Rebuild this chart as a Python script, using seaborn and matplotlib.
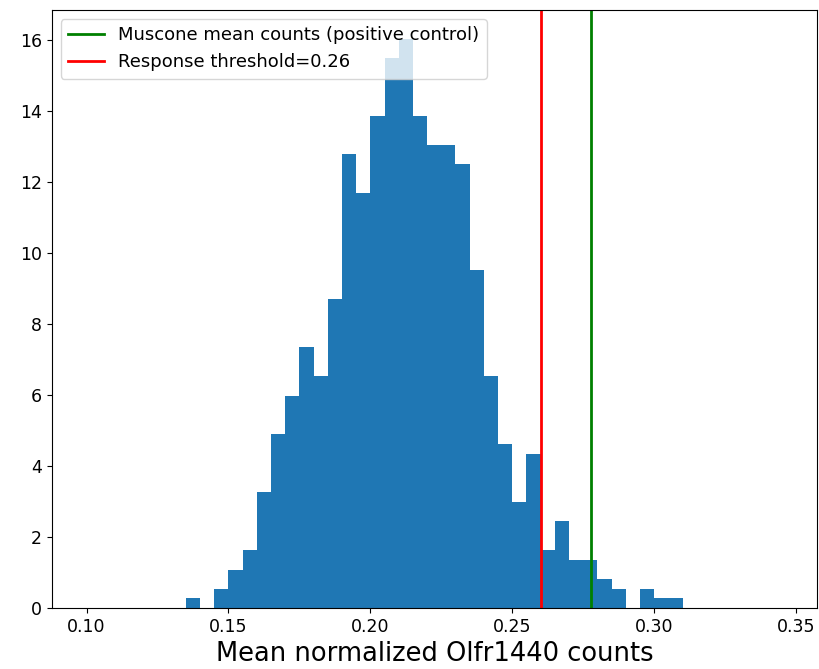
import numpy as np
import pandas as pd
import matplotlib
matplotlib.use("Agg")
import matplotlib.pyplot as plt
import seaborn as sns

# Histogram bins (edges) and density heights
bin_left = np.round(np.arange(0.135, 0.310, 0.005), 3)
bin_width = 0.005
counts = [1, 0, 2, 4, 6, 12, 18, 22, 27, 24, 32, 47, 43, 51, 57, 59, 51, 48,
          48, 46, 35, 24, 17, 11, 16, 6, 9, 5, 5, 3, 2, 0, 2, 1, 1]
n_total = sum(counts)

muscone_mean = 0.2778
threshold = 0.26

df = pd.DataFrame({
    "center": bin_left + bin_width / 2,
    "density": [c / (n_total * bin_width) for c in counts],
})
edges = list(np.append(bin_left, bin_left[-1] + bin_width))

fig, ax = plt.subplots(figsize=(8.19, 6.69), dpi=100)

sns.histplot(data=df, x="center", weights="density", bins=edges,
             stat="count", color="#1f77b4", alpha=1, linewidth=0, ax=ax)

ax.axvline(muscone_mean, color="green", linewidth=2,
           label="Muscone mean counts (positive control)")
ax.axvline(threshold, color="red", linewidth=2,
           label=f"Response threshold={threshold}")

ax.set_xlim(0.0877, 0.3575)
ax.set_xticks([0.10, 0.15, 0.20, 0.25, 0.30, 0.35])
ax.set_xticklabels(["0.10", "0.15", "0.20", "0.25", "0.30", "0.35"])
ax.set_ylabel("")
ax.set_xlabel("Mean normalized Olfr1440 counts", fontsize=18.5)
ax.tick_params(labelsize=12.5)
ax.legend(loc="upper left", fontsize=13)

fig.subplots_adjust(left=0.063, right=0.998, top=0.985, bottom=0.091)
fig.savefig("out.png", dpi=100)
